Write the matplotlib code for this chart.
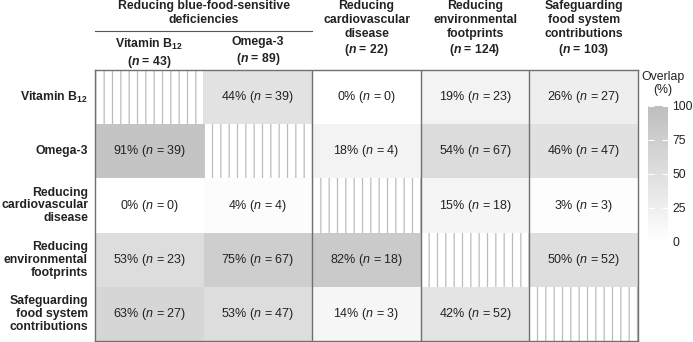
# Overlap heatmap between blue-food policy objectives
import numpy as np
import matplotlib.pyplot as plt
import matplotlib.transforms as mtransforms
from matplotlib.colors import LinearSegmentedColormap
from matplotlib.patches import Rectangle

plt.rcParams['font.family'] = ['Liberation Sans', 'DejaVu Sans']
plt.rcParams['mathtext.fontset'] = 'custom'
plt.rcParams['mathtext.rm'] = 'Liberation Sans'
plt.rcParams['mathtext.it'] = 'Liberation Sans:italic'
plt.rcParams['mathtext.bf'] = 'Liberation Sans:bold'
plt.rcParams['mathtext.bfit'] = 'Liberation Sans:italic:bold'
plt.rcParams['hatch.linewidth'] = 0.9

# Data
row_labels = ['Vitamin B$_{\\mathbf{12}}$', 'Omega-3', 'Reducing\ncardiovascular\ndisease',
              'Reducing\nenvironmental\nfootprints', 'Safeguarding\nfood system\ncontributions']
col_headers = ['Vitamin B$_{\\mathbf{12}}$\n($\\mathbfit{n}$ = 43)', 'Omega-3\n($\\mathbfit{n}$ = 89)',
               'Reducing\ncardiovascular\ndisease\n($\\mathbfit{n}$ = 22)',
               'Reducing\nenvironmental\nfootprints\n($\\mathbfit{n}$ = 124)',
               'Safeguarding\nfood system\ncontributions\n($\\mathbfit{n}$ = 103)']
group_header = 'Reducing blue-food-sensitive\ndeficiencies'
pct = np.array([[np.nan, 44, 0, 19, 26],
                [91, np.nan, 18, 54, 46],
                [0, 4, np.nan, 15, 3],
                [53, 75, 82, np.nan, 50],
                [63, 53, 14, 42, np.nan]])
counts = np.array([[0, 39, 0, 23, 27],
                   [39, 0, 4, 67, 47],
                   [0, 4, 0, 18, 3],
                   [23, 67, 18, 0, 52],
                   [27, 47, 3, 52, 0]])

W, H = 693, 342
FS = 8.8
fig = plt.figure(figsize=(W / 100, H / 100), dpi=100)
ax = fig.add_axes([95 / W, 1 - 341 / H, (638 - 95) / W, (341 - 70) / H])

cmap = LinearSegmentedColormap.from_list('grey', ['#ffffff', '#bebebe'])
mesh = ax.pcolormesh(np.ma.masked_invalid(pct), cmap=cmap, vmin=0, vmax=100)
ax.set_xlim(0, 5)
ax.set_ylim(5, 0)
ax.set_xticks([])
ax.set_yticks([])
for s in ax.spines.values():
    s.set_color('#707070')
    s.set_linewidth(1.0)

nr, nc = pct.shape
for i in range(nr):
    for j in range(nc):
        if i == j:
            ax.add_patch(Rectangle((j, i), 1, 1, facecolor='white', edgecolor='#bcbcbc',
                                   linewidth=0, hatch='||'))
        else:
            ax.text(j + 0.5, i + 0.5, f'{pct[i, j]:.0f}% ($\\it{{n}}$ = {counts[i, j]})',
                    ha='center', va='center', fontsize=9, color='#222222')

for x in [2, 3, 4]:
    ax.axvline(x, color='#707070', lw=1.0)

# Headers
tr = mtransforms.blended_transform_factory(ax.transData, fig.transFigure)
ax.text(1.0, 1 - 0.5 / H, group_header, transform=tr, ha='center', va='top',
        fontsize=FS, fontweight='bold', linespacing=1.2, color='#222222')
ax.plot([0, 2], [1 - 31 / H] * 2, transform=tr, color='#555555', lw=0.8, clip_on=False)
for j, lab in enumerate(col_headers):
    y = 36.5 if j < 2 else 0.5
    ax.text(j + 0.5, 1 - y / H, lab, transform=tr, ha='center', va='top',
            fontsize=FS, fontweight='bold', linespacing=1.2, color='#222222')

for i, lab in enumerate(row_labels):
    ax.text(-7 / 108.6, i + 0.5, lab, ha='right', va='center', fontsize=FS,
            fontweight='bold', linespacing=1.1, color='#222222', multialignment='right')

# Colour bar
cax = fig.add_axes([648 / W, 1 - 242 / H, 20 / W, (242 - 106) / H])
cbar = fig.colorbar(mesh, cax=cax, ticks=[0, 25, 50, 75, 100])
cbar.outline.set_visible(False)
cax.tick_params(direction='in', length=4, width=0.8, color='white', labelsize=8.8,
                labelcolor='#222222', pad=3, left=True, right=True)
fig.text(663 / W, 1 - 71 / H, 'Overlap\n(%)', ha='center', va='top', fontsize=8.8,
         linespacing=1.15, color='#222222')

fig.savefig('out.png', dpi=100)
